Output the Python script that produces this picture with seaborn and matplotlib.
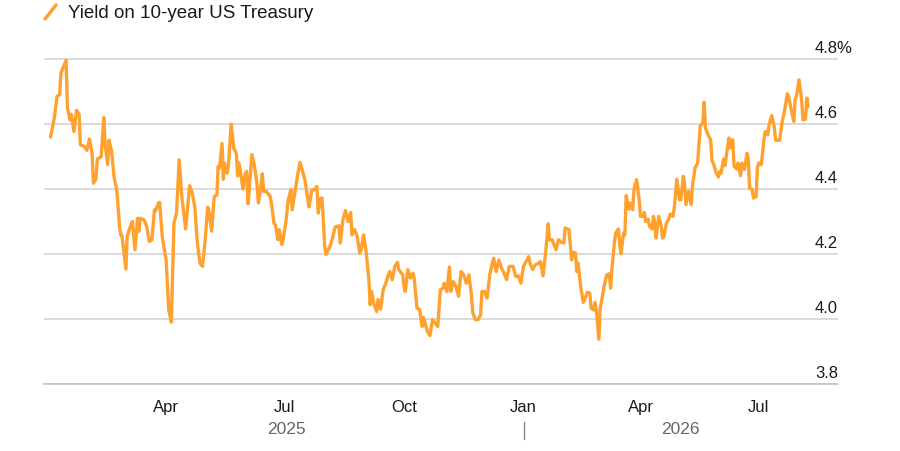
import matplotlib
matplotlib.use("Agg")
import matplotlib.pyplot as plt
import matplotlib.dates as mdates
import matplotlib.transforms as mtransforms
from matplotlib.lines import Line2D
import seaborn as sns
import pandas as pd

# Yield on 10-year US Treasury
dates_2025 = [
    "2025-01-02", "2025-01-05", "2025-01-07", "2025-01-09", "2025-01-10", "2025-01-14",
    "2025-01-15", "2025-01-17", "2025-01-18", "2025-01-20", "2025-01-22", "2025-01-24",
    "2025-01-25", "2025-01-28", "2025-01-30", "2025-02-01", "2025-02-03", "2025-02-04",
    "2025-02-06", "2025-02-07", "2025-02-10", "2025-02-12", "2025-02-13", "2025-02-15",
    "2025-02-16", "2025-02-18", "2025-02-20", "2025-02-22", "2025-02-24", "2025-02-25",
    "2025-02-26", "2025-03-01", "2025-03-02", "2025-03-04", "2025-03-06", "2025-03-08",
    "2025-03-10", "2025-03-11", "2025-03-12", "2025-03-15", "2025-03-17", "2025-03-19",
    "2025-03-21", "2025-03-23", "2025-03-24", "2025-03-26", "2025-03-27", "2025-03-29",
    "2025-04-01", "2025-04-03", "2025-04-05", "2025-04-07", "2025-04-09", "2025-04-11",
    "2025-04-13", "2025-04-16", "2025-04-19", "2025-04-21", "2025-04-23", "2025-04-25",
    "2025-04-27", "2025-04-29", "2025-05-01", "2025-05-03", "2025-05-04", "2025-05-06",
    "2025-05-08", "2025-05-10", "2025-05-11", "2025-05-12", "2025-05-14", "2025-05-15",
    "2025-05-16", "2025-05-18", "2025-05-19", "2025-05-21", "2025-05-23", "2025-05-25",
    "2025-05-26", "2025-05-27", "2025-05-29", "2025-05-30", "2025-06-01", "2025-06-02",
    "2025-06-03", "2025-06-04", "2025-06-06", "2025-06-08", "2025-06-10", "2025-06-11",
    "2025-06-13", "2025-06-14", "2025-06-15", "2025-06-17", "2025-06-20", "2025-06-21",
    "2025-06-23", "2025-06-24", "2025-06-26", "2025-06-27", "2025-06-29", "2025-06-30",
    "2025-07-02", "2025-07-04", "2025-07-06", "2025-07-07", "2025-07-10", "2025-07-11",
    "2025-07-13", "2025-07-15", "2025-07-17", "2025-07-19", "2025-07-20", "2025-07-22",
    "2025-07-24", "2025-07-26", "2025-07-27", "2025-07-29", "2025-07-30", "2025-08-01",
    "2025-08-02", "2025-08-05", "2025-08-07", "2025-08-09", "2025-08-12", "2025-08-13",
    "2025-08-15", "2025-08-17", "2025-08-19", "2025-08-21", "2025-08-22", "2025-08-24",
    "2025-08-26", "2025-08-28", "2025-08-29", "2025-08-31", "2025-09-02", "2025-09-04",
    "2025-09-05", "2025-09-06", "2025-09-08", "2025-09-10", "2025-09-11", "2025-09-13",
    "2025-09-15", "2025-09-17", "2025-09-19", "2025-09-20", "2025-09-22", "2025-09-24",
    "2025-09-26", "2025-09-27", "2025-09-30", "2025-10-01", "2025-10-02", "2025-10-04",
    "2025-10-06", "2025-10-08", "2025-10-09", "2025-10-11", "2025-10-13", "2025-10-15",
    "2025-10-16", "2025-10-18", "2025-10-19", "2025-10-21", "2025-10-23", "2025-10-25",
    "2025-10-27", "2025-10-29", "2025-10-31", "2025-11-01", "2025-11-03", "2025-11-05",
    "2025-11-06", "2025-11-08", "2025-11-10", "2025-11-12", "2025-11-14", "2025-11-16",
    "2025-11-18", "2025-11-20", "2025-11-22", "2025-11-23", "2025-11-25", "2025-11-27",
    "2025-11-29", "2025-11-30", "2025-12-02", "2025-12-04", "2025-12-06", "2025-12-08",
    "2025-12-09", "2025-12-11", "2025-12-13", "2025-12-15", "2025-12-17", "2025-12-19",
    "2025-12-21", "2025-12-24", "2025-12-26", "2025-12-28", "2025-12-30",
]
yield_2025 = [
    4.56, 4.62, 4.685, 4.69, 4.757, 4.796,
    4.65, 4.613, 4.63, 4.577, 4.642, 4.63,
    4.536, 4.531, 4.519, 4.554, 4.51, 4.418,
    4.43, 4.492, 4.50, 4.62, 4.54, 4.475,
    4.55, 4.516, 4.434, 4.398, 4.29, 4.259,
    4.256, 4.154, 4.254, 4.28, 4.30, 4.213,
    4.31, 4.27, 4.31, 4.305, 4.285, 4.239,
    4.244, 4.336, 4.334, 4.357, 4.359, 4.254,
    4.18, 4.028, 3.99, 4.295, 4.326, 4.49,
    4.377, 4.277, 4.41, 4.388, 4.347, 4.234,
    4.172, 4.162, 4.244, 4.344, 4.331, 4.27,
    4.377, 4.382, 4.47, 4.465, 4.54, 4.43,
    4.48, 4.449, 4.475, 4.60, 4.526, 4.51,
    4.44, 4.48, 4.434, 4.40, 4.449, 4.454,
    4.355, 4.398, 4.506, 4.47, 4.413, 4.357,
    4.408, 4.447, 4.393, 4.393, 4.377, 4.357,
    4.295, 4.29, 4.244, 4.275, 4.229, 4.244,
    4.295, 4.367, 4.398, 4.336, 4.413, 4.439,
    4.482, 4.454, 4.424, 4.367, 4.345, 4.396,
    4.398, 4.408, 4.326, 4.372, 4.372, 4.223,
    4.198, 4.223, 4.249, 4.283, 4.287, 4.234,
    4.305, 4.334, 4.30, 4.328, 4.259, 4.275,
    4.254, 4.203, 4.213, 4.259, 4.203, 4.121,
    4.044, 4.085, 4.044, 4.023, 4.06, 4.03,
    4.09, 4.11, 4.136, 4.146, 4.121, 4.162,
    4.174, 4.152, 4.136, 4.10, 4.085, 4.152,
    4.126, 4.141, 4.121, 4.033, 4.03, 3.977,
    4.005, 3.977, 3.962, 3.949, 3.998, 3.988,
    3.977, 4.09, 4.095, 4.11, 4.085, 4.16,
    4.085, 4.115, 4.10, 4.07, 4.146, 4.136,
    4.11, 4.136, 4.07, 4.018, 3.998, 3.998,
    4.013, 4.085, 4.085, 4.064, 4.136, 4.172,
    4.187, 4.146, 4.182, 4.157, 4.141, 4.121,
    4.162, 4.162, 4.131, 4.133, 4.11,
]
dates_2026 = [
    "2026-01-01", "2026-01-03", "2026-01-05", "2026-01-06", "2026-01-08", "2026-01-10",
    "2026-01-12", "2026-01-14", "2026-01-16", "2026-01-18", "2026-01-20", "2026-01-21",
    "2026-01-23", "2026-01-26", "2026-01-28", "2026-01-30", "2026-02-01", "2026-02-02",
    "2026-02-05", "2026-02-07", "2026-02-08", "2026-02-10", "2026-02-11", "2026-02-12",
    "2026-02-14", "2026-02-16", "2026-02-17", "2026-02-19", "2026-02-21", "2026-02-22",
    "2026-02-24", "2026-02-25", "2026-02-26", "2026-02-28", "2026-03-01", "2026-03-02",
    "2026-03-04", "2026-03-06", "2026-03-08", "2026-03-09", "2026-03-10", "2026-03-12",
    "2026-03-13", "2026-03-15", "2026-03-16", "2026-03-17", "2026-03-19", "2026-03-20",
    "2026-03-21", "2026-03-23", "2026-03-24", "2026-03-26", "2026-03-27", "2026-03-29",
    "2026-03-31", "2026-04-01", "2026-04-03", "2026-04-04", "2026-04-05", "2026-04-07",
    "2026-04-08", "2026-04-10", "2026-04-11", "2026-04-12", "2026-04-13", "2026-04-15",
    "2026-04-17", "2026-04-18", "2026-04-19", "2026-04-21", "2026-04-23", "2026-04-24",
    "2026-04-26", "2026-04-27", "2026-04-29", "2026-05-01", "2026-05-02", "2026-05-04",
    "2026-05-05", "2026-05-06", "2026-05-08", "2026-05-10", "2026-05-11", "2026-05-13",
    "2026-05-15", "2026-05-17", "2026-05-19", "2026-05-20", "2026-05-21", "2026-05-23",
    "2026-05-25", "2026-05-26", "2026-05-27", "2026-05-29", "2026-05-31", "2026-06-01",
    "2026-06-02", "2026-06-04", "2026-06-05", "2026-06-08", "2026-06-09", "2026-06-11",
    "2026-06-12", "2026-06-14", "2026-06-15", "2026-06-17", "2026-06-18", "2026-06-20",
    "2026-06-22", "2026-06-23", "2026-06-24", "2026-06-26", "2026-06-27", "2026-06-29",
    "2026-06-30", "2026-07-01", "2026-07-03", "2026-07-05", "2026-07-06", "2026-07-08",
    "2026-07-09", "2026-07-11", "2026-07-13", "2026-07-14", "2026-07-17", "2026-07-19",
    "2026-07-21", "2026-07-23", "2026-07-24", "2026-07-26", "2026-07-28", "2026-07-29",
    "2026-07-30", "2026-08-01", "2026-08-03", "2026-08-04", "2026-08-06", "2026-08-07",
    "2026-08-08",
]
yield_2026 = [
    4.162, 4.177, 4.192, 4.172, 4.152, 4.167,
    4.17, 4.177, 4.133, 4.203, 4.293, 4.244,
    4.244, 4.213, 4.244, 4.236, 4.234, 4.28,
    4.275, 4.182, 4.205, 4.203, 4.146, 4.172,
    4.10, 4.051, 4.059, 4.082, 4.08, 4.033,
    4.028, 4.051, 4.028, 3.938, 4.033, 4.054,
    4.10, 4.136, 4.139, 4.095, 4.152, 4.239,
    4.264, 4.277, 4.229, 4.201, 4.264, 4.259,
    4.38, 4.338, 4.357, 4.336, 4.398, 4.429,
    4.367, 4.316, 4.316, 4.328, 4.30, 4.307,
    4.285, 4.277, 4.316, 4.295, 4.249, 4.316,
    4.285, 4.249, 4.254, 4.295, 4.31, 4.323,
    4.316, 4.341, 4.43, 4.367, 4.367, 4.439,
    4.413, 4.352, 4.393, 4.352, 4.408, 4.465,
    4.48, 4.595, 4.603, 4.667, 4.588, 4.567,
    4.552, 4.488, 4.48, 4.454, 4.437, 4.454,
    4.449, 4.492, 4.472, 4.557, 4.526, 4.552,
    4.47, 4.462, 4.48, 4.441, 4.48, 4.46,
    4.51, 4.49, 4.403, 4.398, 4.372, 4.377,
    4.465, 4.48, 4.475, 4.552, 4.577, 4.567,
    4.598, 4.626, 4.59, 4.55, 4.55, 4.605,
    4.644, 4.693, 4.685, 4.644, 4.608, 4.675,
    4.685, 4.736, 4.675, 4.613, 4.615, 4.68,
    4.654,
]

y_ticks = [3.8, 4.0, 4.2, 4.4, 4.6, 4.8]
y_tick_labels = ["3.8", "4.0", "4.2", "4.4", "4.6", "4.8%"]
major_ticks = ["2025-04-01", "2025-07-01", "2025-10-01", "2026-01-01",
               "2026-04-01", "2026-07-01"]
years = [2025, 2026]
x_start, x_end = "2024-12-28", "2026-08-31"

LINE_COLOR = "#ffa12e"

df = pd.DataFrame({
    "date": pd.to_datetime(dates_2025 + dates_2026),
    "yield": yield_2025 + yield_2026,
})

sns.set_style("white")
plt.rcParams["font.family"] = ["Liberation Sans", "DejaVu Sans"]

fig = plt.figure(figsize=(9, 4.52), dpi=100)
ax = fig.add_axes([0.0489, 0.1482, 0.8822, 0.7334])

sns.lineplot(data=df, x="date", y="yield", ax=ax, color=LINE_COLOR,
             linewidth=2.4, clip_on=False)

ax.set_xlim(pd.Timestamp(x_start), pd.Timestamp(x_end))
ax.set_ylim(3.8, 4.82)
ax.set_xlabel("")
ax.set_ylabel("")

# horizontal grid, labels sit above each line on the right
ax.set_yticks(y_ticks)
ax.tick_params(axis="y", length=0, labelleft=False)
ax.grid(axis="y", color="#d4d4d4", linewidth=1.2)
ax.grid(axis="x", visible=False)
ax.set_axisbelow(True)
for v, lab in zip(y_ticks, y_tick_labels):
    ax.annotate(lab, xy=(0.971, v), xycoords=("axes fraction", "data"),
                xytext=(0, 3), textcoords="offset points",
                ha="left", va="bottom", fontsize=12, color="#1a1a1a")

for side in ["top", "right", "left"]:
    ax.spines[side].set_visible(False)
ax.spines["bottom"].set_color("#c4c4c4")
ax.spines["bottom"].set_linewidth(1.2)

# month ticks
ax.set_xticks(pd.to_datetime(major_ticks))
ax.xaxis.set_major_formatter(mdates.DateFormatter("%b"))
minor = [d for d in pd.date_range("2025-02-01", "2026-08-01", freq="MS")
         if d.month not in (1, 4, 7, 10)]
ax.set_xticks(minor, minor=True)
ax.tick_params(axis="x", which="major", direction="out", length=6, width=1,
               color="#444444", labelsize=12, labelcolor="#1a1a1a", pad=5)
ax.tick_params(axis="x", which="minor", direction="out", length=5, width=1,
               color="#cccccc")

# year labels centred on each year's visible span, separator at the turn
trans = mtransforms.blended_transform_factory(ax.transData, ax.transAxes)
lo, hi = ax.get_xlim()
for yr in years:
    a = max(lo, mdates.date2num(pd.Timestamp(f"{yr}-01-01")))
    b = min(hi, mdates.date2num(pd.Timestamp(f"{yr + 1}-01-01")))
    ax.text((a + b) / 2, -0.135, str(yr), transform=trans, ha="center",
            va="center", fontsize=12.5, color="#666666")
sep = mdates.date2num(pd.Timestamp("2026-01-01"))
ax.plot([sep, sep], [-0.115, -0.165], transform=trans, color="#888888",
        linewidth=1, clip_on=False)

# legend-style title
fig.add_artist(Line2D([45 / 900, 56 / 900], [1 - 20 / 452, 1 - 6 / 452],
                      color=LINE_COLOR, linewidth=2.5,
                      transform=fig.transFigure))
fig.text(68 / 900, 1 - 13 / 452, "Yield on 10-year US Treasury",
         ha="left", va="center", fontsize=13.5, color="#1a1a1a")

fig.savefig("out.png", dpi=100)
plt.close(fig)
